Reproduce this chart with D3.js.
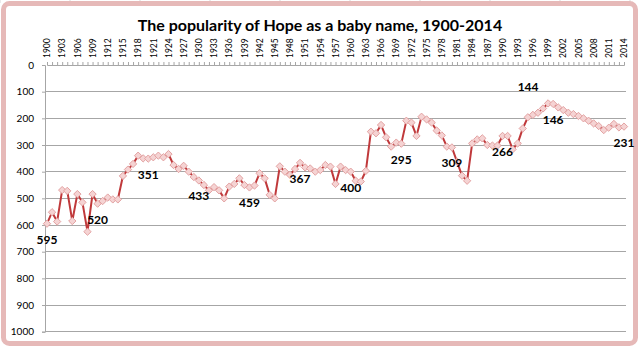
<!DOCTYPE html>
<html><head><meta charset="utf-8">
<script src="https://cdn.jsdelivr.net/npm/d3@7"></script>
<style>html,body{margin:0;padding:0;background:#fff;}svg{display:block;}</style>
</head><body>
<svg id="chart" width="640" height="348"></svg>
<script>
const years = d3.range(1900, 2015);
const ranks = [595,552,587,469,472,585,484,515,625,484,
520,510,497,504,504,416,392,371,340,350,
351,346,340,346,334,375,390,378,400,420,
433,450,470,458,470,500,456,446,425,450,
459,452,406,425,487,500,380,400,412,390,
367,384,388,400,394,375,381,446,381,394,
400,434,437,397,250,256,225,271,306,291,
295,209,216,266,194,204,216,246,264,306,
309,362,415,434,294,279,275,300,302,302,
266,266,316,294,238,196,187,179,163,144,
146,159,169,179,184,191,200,209,219,229,
244,235,221,234,231];
const yTicks = [0,100,200,300,400,500,600,700,800,900,1000];
const labelYearsBelow = [1900,1910,1920,1930,1940,1950,1960,1970,1980,1990,2000,2014];
const labelYearsAbove = [1999];
const title = "The popularity of Hope as a baby name, 1900-2014";

const svg = d3.select("#chart");
const FONT = "Lato, 'Open Sans', sans-serif";

// worksheet faint cell lines outside
const cellX = [0,70,140,210,280,350,420,490,560,630];
svg.selectAll("line.cell").data(cellX).enter().append("line")
  .attr("x1", d=>d).attr("x2", d=>d).attr("y1",0).attr("y2",3)
  .attr("stroke","#d8d8d8").attr("stroke-width",1);

// outer frame
svg.append("rect").attr("x",3.5).attr("y",3.5).attr("width",632).attr("height",340)
  .attr("rx",6).attr("fill","#fff").attr("stroke","#e6b9b8").attr("stroke-width",5);

const x = d3.scaleLinear().domain([1900,2014]).range([47,624]);
const y = d3.scaleLinear().domain([0,1000]).range([65,331.7]);

// gridlines
svg.append("g").selectAll("line").data(yTicks.filter(d=>d>0)).enter().append("line")
  .attr("x1",45).attr("x2",626).attr("y1",d=>y(d)).attr("y2",d=>y(d))
  .attr("stroke","#a6a6a6").attr("stroke-width",1).attr("shape-rendering","crispEdges");

// y axis
const yAxis = d3.axisLeft(y).tickValues(yTicks).tickSize(3).tickPadding(8).tickFormat(d3.format("d"));
const gy = svg.append("g").attr("transform","translate(45,0)").call(yAxis);
gy.select(".domain").attr("stroke","#a6a6a6");
gy.selectAll(".tick line").attr("stroke","#a6a6a6");
gy.selectAll("text").attr("font-family",FONT).attr("font-size","10px").attr("fill","#000");

// top x axis
const tickYears = years.filter(d=>(d-1900)%3===0);
const xAxisMinor = d3.axisTop(x).tickValues(years).tickSize(3).tickFormat("");
const gxm = svg.append("g").attr("transform","translate(0,65)").call(xAxisMinor);
gxm.select(".domain").attr("stroke","#a6a6a6");
gxm.selectAll(".tick line").attr("stroke","#a6a6a6");
const xAxis = d3.axisTop(x).tickValues(tickYears).tickSize(0).tickFormat(d3.format("d"));
const gx = svg.append("g").attr("transform","translate(0,65)").call(xAxis);
gx.select(".domain").remove();
gx.selectAll("text").attr("font-family",FONT).attr("font-size","8.5px").attr("fill","#000")
  .attr("transform","rotate(-90)").attr("text-anchor","start").attr("x",7).attr("y",0).attr("dy","0.32em");

// title
svg.append("text").attr("x",320).attr("y",31).attr("text-anchor","middle")
  .attr("font-family",FONT).attr("font-weight","bold").attr("font-size","16px").attr("fill","#000")
  .text(title);

// line
const data = years.map((yr,i)=>({year:yr, rank:ranks[i]}));
svg.append("path").datum(data)
  .attr("d", d3.line().x(d=>x(d.year)).y(d=>y(d.rank)))
  .attr("fill","none").attr("stroke","#c0393b").attr("stroke-width",2);

// markers
svg.append("g").selectAll("path").data(data).enter().append("path")
  .attr("d", d3.symbol().type(d3.symbolDiamond2).size(34))
  .attr("transform", d=>`translate(${x(d.year)},${y(d.rank)})`)
  .attr("fill","#f5d3d3").attr("stroke","#e3a2a2").attr("stroke-width",1);

// labels
const lab = svg.append("g").attr("font-family",FONT).attr("font-weight","bold").attr("font-size","12px").attr("fill","#000");
lab.selectAll("text.b").data(data.filter(d=>labelYearsBelow.includes(d.year))).enter().append("text")
  .attr("x",d=>x(d.year)).attr("y",d=>y(d.rank)+20).attr("text-anchor","middle").text(d=>d.rank);
lab.selectAll("text.a").data(data.filter(d=>labelYearsAbove.includes(d.year))).enter().append("text")
  .attr("x",d=>x(d.year)-20).attr("y",d=>y(d.rank)-12).attr("text-anchor","middle").text(d=>d.rank);
</script>
</body></html>
